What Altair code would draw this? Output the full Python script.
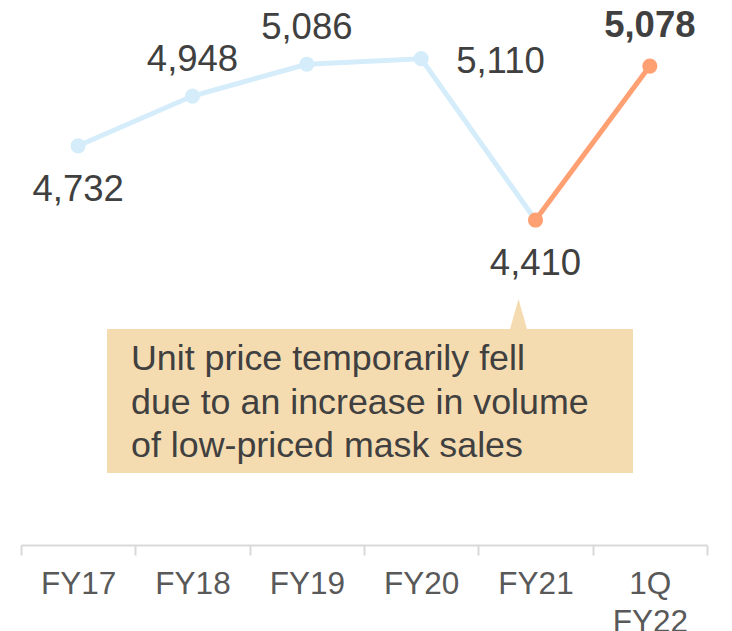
import altair as alt
import pandas as pd

categories = ["FY17", "FY18", "FY19", "FY20", "FY21", "1Q FY22"]
values = [4732, 4948, 5086, 5110, 4410, 5078]
labels = ["4,732", "4,948", "5,086", "5,110", "4,410", "5,078"]
# segment membership for line colouring
past_idx = [0, 1, 2, 3, 4]
recent_idx = [4, 5]

callout_text = ["Unit price temporarily fell",
                "due to an increase in volume",
                "of low-priced mask sales"]

BLUE = "#D5EDFB"
ORANGE = "#FFA073"
TXT = "#404040"
FONT = "Liberation Sans"
LBL = 36.5

rows = []
for i in past_idx:
    rows.append({"cat": categories[i], "value": values[i], "seg": "past"})
for i in recent_idx:
    rows.append({"cat": categories[i], "value": values[i], "seg": "recent"})
line_df = pd.DataFrame(rows)

pts_df = pd.DataFrame({
    "cat": categories,
    "value": values,
    "label": labels,
    "seg": ["past"] * 4 + ["recent"] * 2,
})

xscale = alt.Scale(domain=categories, paddingInner=0, paddingOuter=0)
yscale = alt.Scale(domain=[3000, 5330], zero=False, nice=False)

x_enc = alt.X("cat:N", scale=xscale, sort=categories, title=None,
              axis=alt.Axis(
                  labelAngle=0, labelFont=FONT, labelFontSize=31.5,
                  labelColor="#595959", labelPadding=13, labelLineHeight=38,
                  labelExpr="datum.label == '1Q FY22' ? ['1Q', 'FY22'] : datum.label",
                  domainColor="#D9D9D9", domainWidth=2,
                  tickColor="#D9D9D9", tickWidth=2, tickSize=10,
                  tickBand="extent", grid=False))
y_enc = alt.Y("value:Q", scale=yscale, axis=None)

color_scale = alt.Scale(domain=["past", "recent"], range=[BLUE, ORANGE])

base_line = alt.Chart(line_df)
line_past = base_line.transform_filter(alt.datum.seg == "past").mark_line(
    strokeWidth=5, color=BLUE).encode(x=x_enc, y=y_enc)
line_recent = base_line.transform_filter(alt.datum.seg == "recent").mark_line(
    strokeWidth=5, color=ORANGE).encode(x=x_enc, y=y_enc)

points = alt.Chart(pts_df).mark_circle(size=230, opacity=1).encode(
    x=x_enc, y=y_enc,
    color=alt.Color("seg:N", scale=color_scale, legend=None))

base_txt = alt.Chart(pts_df)
lab_below = base_txt.transform_filter(
    alt.FieldOneOfPredicate(field="cat", oneOf=["FY17", "FY21"])
).mark_text(font=FONT, fontSize=LBL, color=TXT, baseline="alphabetic",
            align="center", dy=55).encode(x=x_enc, y=y_enc, text="label:N")
lab_above = base_txt.transform_filter(
    alt.FieldOneOfPredicate(field="cat", oneOf=["FY18", "FY19"])
).mark_text(font=FONT, fontSize=LBL, color=TXT, baseline="alphabetic",
            align="center", dy=-25).encode(x=x_enc, y=y_enc, text="label:N")
lab_right = base_txt.transform_filter(
    alt.FieldOneOfPredicate(field="cat", oneOf=["FY20"])
).mark_text(font=FONT, fontSize=LBL, color=TXT, baseline="alphabetic",
            align="left", dx=35, dy=14).encode(x=x_enc, y=y_enc, text="label:N")
lab_bold = base_txt.transform_filter(
    alt.FieldOneOfPredicate(field="cat", oneOf=["1Q FY22"])
).mark_text(font=FONT, fontSize=LBL, fontWeight="bold", color=TXT,
            baseline="alphabetic", align="center", dy=-29).encode(
    x=x_enc, y=y_enc, text="label:N")

# Callout annotation
ann_df = pd.DataFrame({"k": [0]})
box = alt.Chart(ann_df).mark_rect(color="#F5DCB0").encode(
    x=alt.value(86), x2=alt.value(612),
    y=alt.value(321), y2=alt.value(465))
pointer = alt.Chart(ann_df).mark_point(
    shape="M0,-1L-0.567,1L0.567,1Z", size=900, filled=True, opacity=1,
    color="#F5DCB0").encode(x=alt.value(497.5), y=alt.value(306))
callout = alt.Chart(pd.DataFrame({"t": ["\n".join(callout_text)]})).mark_text(
    font=FONT, fontSize=35.8, color=TXT, align="left", baseline="alphabetic",
    lineBreak="\n", lineHeight=43.5).encode(
    x=alt.value(110), y=alt.value(362), text="t:N")

chart = alt.layer(
    box, pointer, callout,
    line_past, line_recent, points,
    lab_below, lab_above, lab_right, lab_bold,
).properties(
    width=686, height=537,
    padding={"left": 12, "top": 0, "right": 10, "bottom": 5},
).configure_view(stroke=None)

chart.save("out.html", embed_options={"renderer": "svg", "actions": False})
